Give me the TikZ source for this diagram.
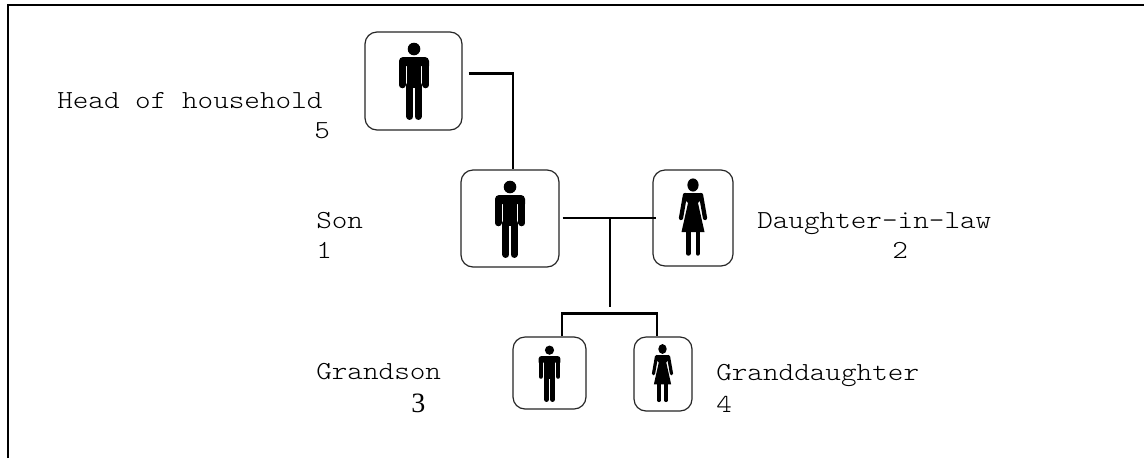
\documentclass[tikz,border=0pt]{standalone}
\usepackage{fontspec}
\setmainfont{Liberation Serif}
\newfontfamily\monof[FakeStretch=1.143]{Latin Modern Mono Light}
\usetikzlibrary{calc}
\tikzset{
  person/.style={draw=black!85,line width=0.9pt,rounded corners=9pt,inner sep=0pt,fill=white},
  conn/.style={draw=black,line width=1.7pt},
  lab/.style={anchor=base west,inner sep=0pt,font=\monof\fontsize{19.5pt}{20pt}\selectfont},
  num/.style={anchor=base west,inner sep=0pt,font=\fontsize{21pt}{22pt}\selectfont}
}
\newcommand{\manfig}[3]{%
\begin{scope}[shift={(#1,#2)},scale=#3]
  \fill (0,-8) circle (6.3);
  \fill (-15,4) arc (180:270:4) -- (11,0) arc (270:360:4) -- (15,9) -- (-15,9) -- cycle;
  \fill (-7.4,4) rectangle (7.4,31);
  \fill[white] (-8.5,10) rectangle (-7.4,32);
  \fill[white] (7.4,10) rectangle (8.5,32);
  \foreach \sx in {-1,1}{
    \draw[line width={#3*4.9pt},line cap=round] (\sx*11.75,6) -- (\sx*11.75,28);
    \draw[line width={#3*5.2pt},line cap=round] (\sx*4.1,28) -- (\sx*4.1,59.5);
  }
\end{scope}}
\newcommand{\womanfig}[3]{%
\begin{scope}[shift={(#1,#2)},scale=#3]
  \fill (0,-8) ellipse (5.6 and 6.6);
  \fill (-8.5,0) -- (8.5,0) -- (9.5,5) -- (5,10) -- (11.5,39) -- (-11.5,39) -- (-5,10) -- (-9.5,5) -- cycle;
  \foreach \sx in {-1,1}{
    \draw[line width={#3*3.2pt},line cap=round] (\sx*8,2) -- (\sx*12,25);
    \draw[line width={#3*3.3pt},line cap=round] (\sx*4.7,38) -- (\sx*4.7,60.5);
  }
\end{scope}}
\begin{document}
\begin{tikzpicture}[x=0.75pt,y=-0.75pt]
\useasboundingbox (0,0) rectangle (1144,458);
\fill[white] (0,0) rectangle (1144,458);
\draw[black,line width=1.8pt] (8,458) -- (8,5) -- (1144,5);

\node[person,minimum width=72.75pt,minimum height=73.5pt] (head) at (413.5,81) {};
\node[person,minimum width=73.5pt,minimum height=72.75pt] (son) at (510,218.5) {};
\node[person,minimum width=60pt,minimum height=72pt] (dil) at (693,218) {};
\node[person,minimum width=54.75pt,minimum height=54pt] (gs) at (549.5,373) {};
\node[person,minimum width=43.5pt,minimum height=55.5pt] (gd) at (663,374) {};

\manfig{414}{57}{1}
\manfig{510}{195}{1}
\womanfig{693}{193}{1}
\manfig{549.5}{356}{0.73}
\womanfig{662.5}{355}{0.75}

\coordinate (mid) at (610,218);
\coordinate (drop) at (610,307);
\coordinate (bar) at (610,313.5);
\draw[conn] ([shift={(6,-7.5)}]head.east) -| ([shift={(3,0)}]son.north);
\draw[conn] (son.east |- mid) ++(3,0) -- (mid) -- ([shift={(4,0)}]dil.west |- mid);
\draw[conn] (mid) -- (drop);
\draw[conn] ([shift={(12.5,0)}]gs.north) |- (bar) -| ([shift={(-6,0)}]gd.north);

\node[lab] (t1) at (57,108) {Head of household};
\node[lab] (n5) at (314,138) {5};
\node[lab] (t2) at (316,228) {Son};
\node[lab] (n1) at (316,258) {1};
\node[lab] (t3) at (757,228) {Daughter-in-law};
\node[lab] (n2) at (892,258) {2};
\node[lab] (t4) at (316,379) {Grandson};
\node[num] (n3) at (411,412) {3};
\node[lab] (t5) at (716,380) {Granddaughter};
\node[lab] (n4) at (716,412) {4};
\end{tikzpicture}
\end{document}
